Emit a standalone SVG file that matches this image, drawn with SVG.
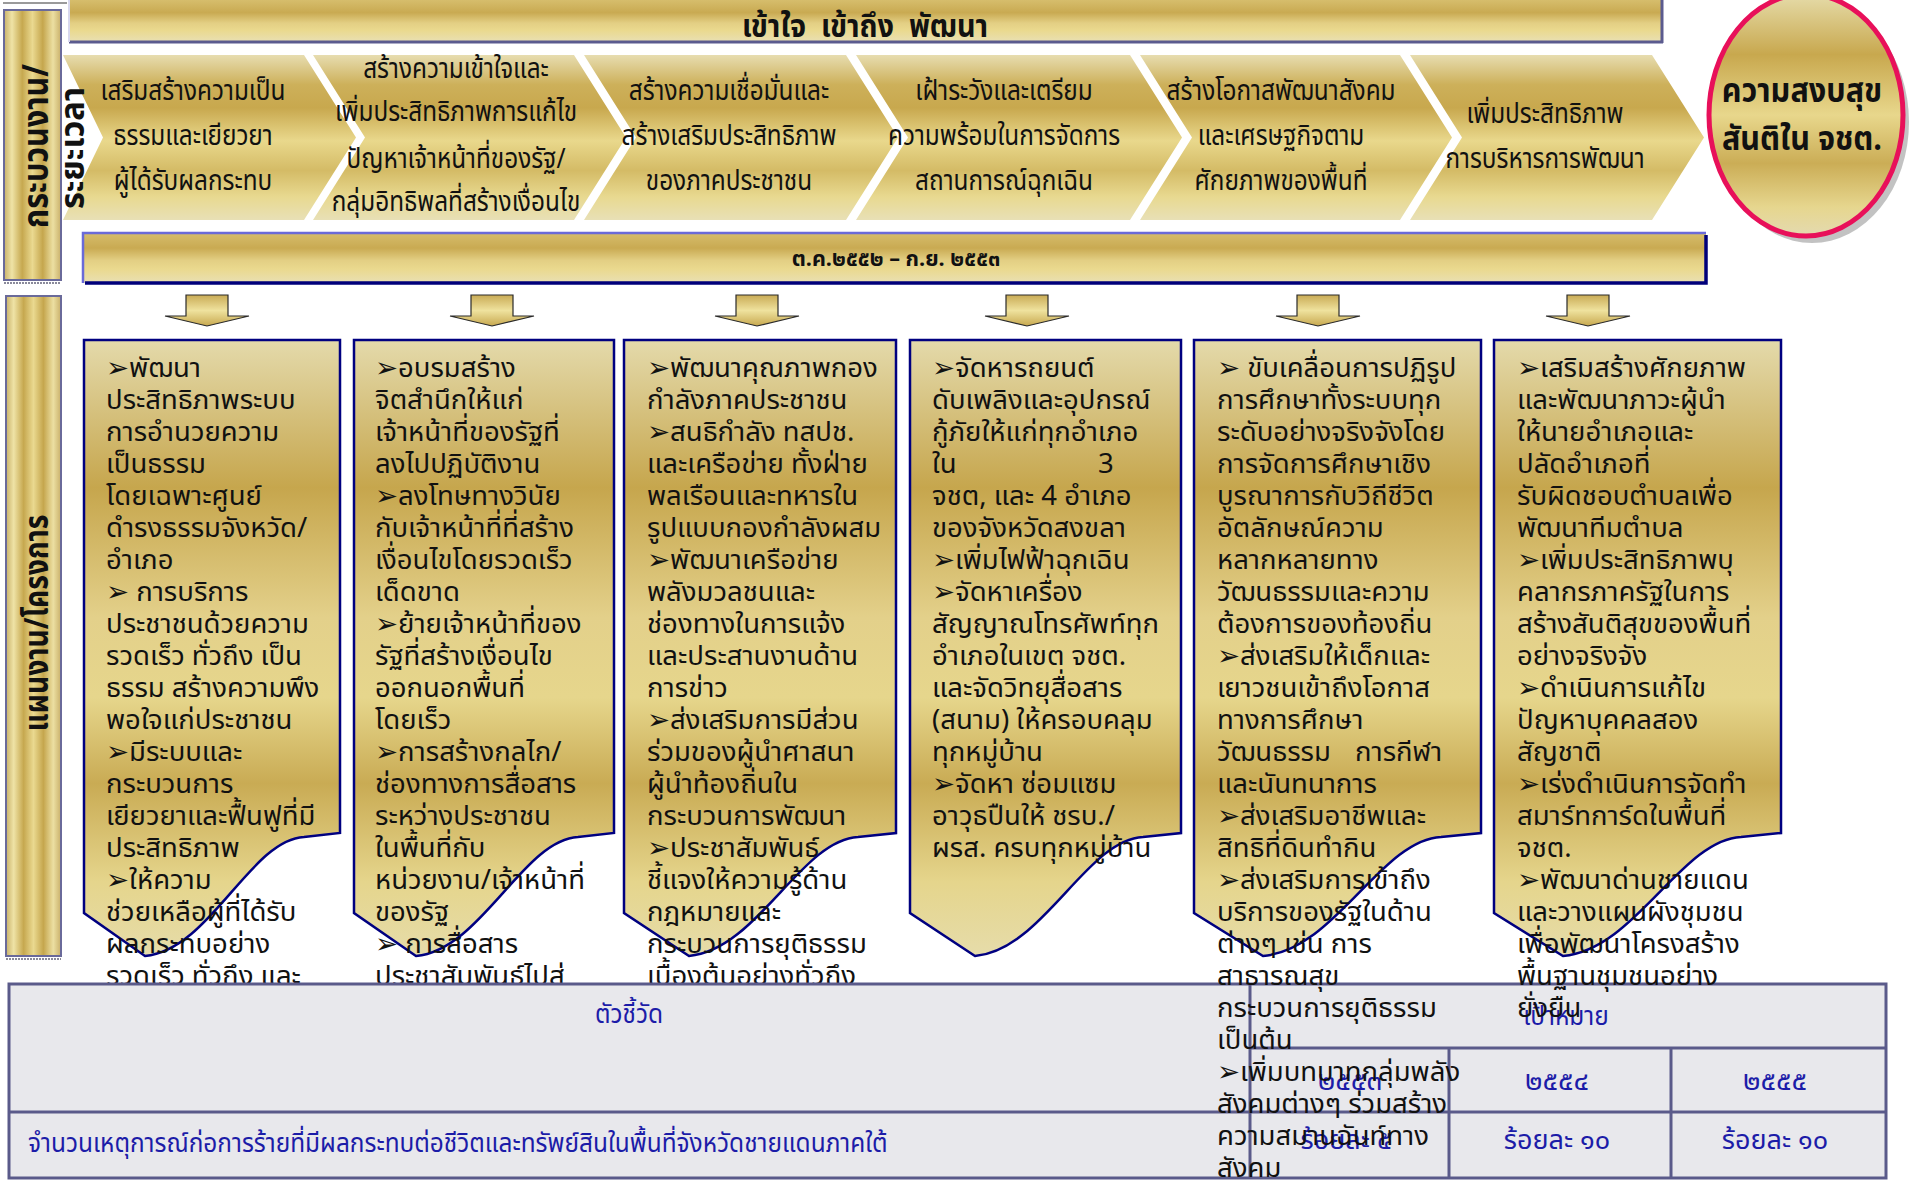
<svg xmlns="http://www.w3.org/2000/svg" width="1910" height="1184" viewBox="0 0 1910 1184">
<defs>
<linearGradient id="gBand" x1="0" y1="0" x2="0" y2="1">
<stop offset="0" stop-color="#e7ddb0"/><stop offset="0.18" stop-color="#cdb05a"/><stop offset="0.32" stop-color="#c8a84e"/><stop offset="0.52" stop-color="#e9d88c"/><stop offset="0.7" stop-color="#d4bb66"/><stop offset="0.86" stop-color="#e8d990"/><stop offset="1" stop-color="#e8e0b6"/>
</linearGradient>
<linearGradient id="gTitle" x1="0" y1="0" x2="0" y2="1">
<stop offset="0" stop-color="#d6bd6c"/><stop offset="0.3" stop-color="#c9aa52"/><stop offset="0.55" stop-color="#e3cf84"/><stop offset="0.72" stop-color="#ead98e"/><stop offset="1" stop-color="#e9e0b4"/>
</linearGradient>
<linearGradient id="gBox" x1="0" y1="0" x2="0" y2="1">
<stop offset="0" stop-color="#e4daab"/><stop offset="0.24" stop-color="#c6a64d"/><stop offset="0.45" stop-color="#e3d08a"/><stop offset="0.58" stop-color="#e6d68c"/><stop offset="0.72" stop-color="#c9ab54"/><stop offset="0.88" stop-color="#e5d58c"/><stop offset="1" stop-color="#e6dcaa"/>
</linearGradient>
<linearGradient id="gBar" x1="0" y1="0" x2="1" y2="0">
<stop offset="0" stop-color="#c9b26a"/><stop offset="0.14" stop-color="#efe3a6"/><stop offset="0.32" stop-color="#c6a84f"/><stop offset="0.5" stop-color="#ead990"/><stop offset="0.68" stop-color="#c5a64d"/><stop offset="0.86" stop-color="#ecdfa2"/><stop offset="1" stop-color="#c9b06a"/>
</linearGradient>
<linearGradient id="gArrow" x1="0" y1="0" x2="0" y2="1">
<stop offset="0" stop-color="#c9ab55"/><stop offset="0.5" stop-color="#efe29e"/><stop offset="1" stop-color="#c7a84f"/>
</linearGradient>
<linearGradient id="gEll" x1="0" y1="0" x2="0" y2="1">
<stop offset="0" stop-color="#e6dcaa"/><stop offset="0.25" stop-color="#c8a84e"/><stop offset="0.5" stop-color="#e8d78c"/><stop offset="0.7" stop-color="#cbad56"/><stop offset="0.88" stop-color="#e6d68e"/><stop offset="1" stop-color="#e4dab0"/>
</linearGradient>
</defs>
<style>
.th{font-family:"Noto Sans Thai","Tahoma","Noto Sans","DejaVu Sans",sans-serif;}
.ch{font-size:28px;fill:#111;text-anchor:middle;}
.bx{font-size:27.5px;fill:#111;}
.bl{fill:#1c1ca8;font-size:26px;}
.box{fill:url(#gBox);stroke:#000080;stroke-width:2.5;}
.chev{fill:url(#gBand);}
.arr{fill:url(#gArrow);stroke:#2a2a2a;stroke-width:1.2;}
.tline{stroke:#5a5a8a;stroke-width:3;fill:none;}
.lbl{font-weight:bold;fill:#111;text-anchor:middle;}
</style>
<rect width="1910" height="1184" fill="#ffffff"/>
<line x1="3" y1="3" x2="67" y2="3" stroke="#9a9a9a" stroke-width="2"/>

<g id="title-bar">
<rect x="69" y="0" width="1593" height="42" fill="url(#gTitle)"/>
<line x1="69" y1="42" x2="1663" y2="42" stroke="#5b5b8f" stroke-width="3"/>
<line x1="1662" y1="0" x2="1662" y2="43" stroke="#5b5b8f" stroke-width="3"/>
<line x1="69" y1="0" x2="69" y2="42" stroke="#d8d8ee" stroke-width="2"/>
<text class="th lbl" xml:space="preserve" transform="translate(865,37) scale(0.9,1)" font-size="32">เข้าใจ  เข้าถึง  พัฒนา</text>
</g>

<g id="chevrons">
<g id="chev1"><polygon class="chev" points="63,55 304,55 356,137.5 304,220 63,220 103,137.5"/>
<text class="th ch" transform="translate(193,100) scale(0.87,1)"><tspan x="0" y="0">เสริมสร้างความเป็น</tspan><tspan x="0" y="45">ธรรมและเยียวยา</tspan><tspan x="0" y="90">ผู้ได้รับผลกระทบ</tspan></text></g>
<g id="chev2"><polygon class="chev" points="313,55 574,55 626,137.5 574,220 313,220 365,137.5"/>
<text class="th ch" transform="translate(456,78) scale(0.87,1)"><tspan x="0" y="0">สร้างความเข้าใจและ</tspan><tspan x="0" y="43">เพิ่มประสิทธิภาพการแก้ไข</tspan><tspan x="0" y="90">ปัญหาเจ้าหน้าที่ของรัฐ/</tspan><tspan x="0" y="133">กลุ่มอิทธิพลที่สร้างเงื่อนไข</tspan></text></g>
<g id="chev3"><polygon class="chev" points="584,55 846,55 898,137.5 846,220 584,220 636,137.5"/>
<text class="th ch" transform="translate(729,100) scale(0.87,1)"><tspan x="0" y="0">สร้างความเชื่อมั่นและ</tspan><tspan x="0" y="45">สร้างเสริมประสิทธิภาพ</tspan><tspan x="0" y="90">ของภาคประชาชน</tspan></text></g>
<g id="chev4"><polygon class="chev" points="856,55 1130,55 1182,137.5 1130,220 856,220 908,137.5"/>
<text class="th ch" transform="translate(1004,100) scale(0.87,1)"><tspan x="0" y="0">เฝ้าระวังและเตรียม</tspan><tspan x="0" y="45">ความพร้อมในการจัดการ</tspan><tspan x="0" y="90">สถานการณ์ฉุกเฉิน</tspan></text></g>
<g id="chev5"><polygon class="chev" points="1140,55 1400,55 1452,137.5 1400,220 1140,220 1192,137.5"/>
<text class="th ch" transform="translate(1281,100) scale(0.87,1)"><tspan x="0" y="0">สร้างโอกาสพัฒนาสังคม</tspan><tspan x="0" y="45">และเศรษฐกิจตาม</tspan><tspan x="0" y="90">ศักยภาพของพื้นที่</tspan></text></g>
<g id="chev6"><polygon class="chev" points="1410,55 1652,55 1704,137.5 1652,220 1410,220 1462,137.5"/>
<text class="th ch" transform="translate(1545,123) scale(0.87,1)"><tspan x="0" y="0">เพิ่มประสิทธิภาพ</tspan><tspan x="0" y="45">การบริหารการพัฒนา</tspan></text></g>
</g>

<g id="goal">
<ellipse cx="1812" cy="122" rx="97" ry="121" fill="#8f8f8f" opacity="0.55"/>
<ellipse cx="1806" cy="115" rx="97" ry="121" fill="url(#gEll)" stroke="#e8105a" stroke-width="5"/>
<text class="th lbl" transform="translate(1802,102) scale(0.9,1)" font-size="34"><tspan x="0" y="0">ความสงบสุข</tspan><tspan x="0" y="48">สันติใน จชต.</tspan></text>
</g>

<g id="label-process">
<rect x="4" y="10" width="57" height="270" fill="url(#gBar)" stroke="#6a6a9a" stroke-width="2"/>
<line x1="4" y1="283" x2="61" y2="283" stroke="#8a8a9a" stroke-width="2" stroke-dasharray="2,1"/>
<text class="th lbl" transform="translate(48,146) rotate(-90) scale(0.85,1)" font-size="36">กระบวนงาน/</text>
<text class="th lbl" transform="translate(84,148) rotate(-90) scale(0.96,1)" font-size="34">ระยะเวลา</text>
</g>

<g id="date-bar">
<rect x="83" y="233" width="1623" height="50" fill="url(#gTitle)"/>
<polyline points="83,283 83,233 1706,233" fill="none" stroke="#6a6ad8" stroke-width="2.5"/>
<polyline points="85,283 1706,283 1706,235" fill="none" stroke="#00007a" stroke-width="3.5"/>
<text class="th lbl" transform="translate(896,266) scale(0.98,1)" font-size="22">ต.ค.๒๕๕๒ – ก.ย. ๒๕๕๓</text>
</g>

<g id="connectors">
<path class="arr" d="M186,295 H228 V316 H249 L207,326 L165,316 H186 Z"/>
<path class="arr" d="M471,295 H513 V316 H534 L492,326 L450,316 H471 Z"/>
<path class="arr" d="M736,295 H778 V316 H799 L757,326 L715,316 H736 Z"/>
<path class="arr" d="M1006,295 H1048 V316 H1069 L1027,326 L985,316 H1006 Z"/>
<path class="arr" d="M1297,295 H1339 V316 H1360 L1318,326 L1276,316 H1297 Z"/>
<path class="arr" d="M1567,295 H1609 V316 H1630 L1588,326 L1546,316 H1567 Z"/>
</g>

<g id="label-plan">
<rect x="6" y="296" width="55" height="660" fill="url(#gBar)" stroke="#6a6a9a" stroke-width="2"/>
<line x1="6" y1="959" x2="61" y2="959" stroke="#8a8a9a" stroke-width="2" stroke-dasharray="2,1"/>
<text class="th lbl" transform="translate(48,623) rotate(-90) scale(0.83,1)" font-size="34">แผนงาน/โครงการ</text>
</g>

<g id="box1">
<path class="box" d="M84,340 H340 V833 L304,837 C250,840 210,950 145,956 L84,913 Z"/>
<text class="th bx"><tspan x="106" y="377">➢พัฒนา</tspan><tspan x="106" dy="32">ประสิทธิภาพระบบ</tspan><tspan x="106" dy="32">การอำนวยความ</tspan><tspan x="106" dy="32">เป็นธรรม</tspan><tspan x="106" dy="32">โดยเฉพาะศูนย์</tspan><tspan x="106" dy="32">ดำรงธรรมจังหวัด/</tspan><tspan x="106" dy="32">อำเภอ</tspan><tspan x="106" dy="32">➢ การบริการ</tspan><tspan x="106" dy="32">ประชาชนด้วยความ</tspan><tspan x="106" dy="32">รวดเร็ว ทั่วถึง เป็น</tspan><tspan x="106" dy="32">ธรรม สร้างความพึง</tspan><tspan x="106" dy="32">พอใจแก่ประชาชน</tspan><tspan x="106" dy="32">➢มีระบบและ</tspan><tspan x="106" dy="32">กระบวนการ</tspan><tspan x="106" dy="32">เยียวยาและฟื้นฟูที่มี</tspan><tspan x="106" dy="32">ประสิทธิภาพ</tspan><tspan x="106" dy="32">➢ให้ความ</tspan><tspan x="106" dy="32">ช่วยเหลือผู้ที่ได้รับ</tspan><tspan x="106" dy="32">ผลกระทบอย่าง</tspan><tspan x="106" dy="32">รวดเร็ว ทั่วถึง และ</tspan></text>
</g>

<g id="box2">
<path class="box" d="M354,340 H614 V833 L578,837 C523,840 481,950 416,956 L354,913 Z"/>
<text class="th bx"><tspan x="375" y="377">➢อบรมสร้าง</tspan><tspan x="375" dy="32">จิตสำนึกให้แก่</tspan><tspan x="375" dy="32">เจ้าหน้าที่ของรัฐที่</tspan><tspan x="375" dy="32">ลงไปปฏิบัติงาน</tspan><tspan x="375" dy="32">➢ลงโทษทางวินัย</tspan><tspan x="375" dy="32">กับเจ้าหน้าที่ที่สร้าง</tspan><tspan x="375" dy="32">เงื่อนไขโดยรวดเร็ว</tspan><tspan x="375" dy="32">เด็ดขาด</tspan><tspan x="375" dy="32">➢ย้ายเจ้าหน้าที่ของ</tspan><tspan x="375" dy="32">รัฐที่สร้างเงื่อนไข</tspan><tspan x="375" dy="32">ออกนอกพื้นที่</tspan><tspan x="375" dy="32">โดยเร็ว</tspan><tspan x="375" dy="32">➢การสร้างกลไก/</tspan><tspan x="375" dy="32">ช่องทางการสื่อสาร</tspan><tspan x="375" dy="32">ระหว่างประชาชน</tspan><tspan x="375" dy="32">ในพื้นที่กับ</tspan><tspan x="375" dy="32">หน่วยงาน/เจ้าหน้าที่</tspan><tspan x="375" dy="32">ของรัฐ</tspan><tspan x="375" dy="32">➢ การสื่อสาร</tspan><tspan x="375" dy="32">ประชาสัมพันธ์ไปสู่</tspan></text>
</g>

<g id="box3">
<path class="box" d="M624,340 H896 V833 L858,837 C801,840 757,950 689,956 L624,913 Z"/>
<text class="th bx"><tspan x="647" y="377">➢พัฒนาคุณภาพกอง</tspan><tspan x="647" dy="32">กำลังภาคประชาชน</tspan><tspan x="647" dy="32">➢สนธิกำลัง ทสปช.</tspan><tspan x="647" dy="32">และเครือข่าย ทั้งฝ่าย</tspan><tspan x="647" dy="32">พลเรือนและทหารใน</tspan><tspan x="647" dy="32">รูปแบบกองกำลังผสม</tspan><tspan x="647" dy="32">➢พัฒนาเครือข่าย</tspan><tspan x="647" dy="32">พลังมวลชนและ</tspan><tspan x="647" dy="32">ช่องทางในการแจ้ง</tspan><tspan x="647" dy="32">และประสานงานด้าน</tspan><tspan x="647" dy="32">การข่าว</tspan><tspan x="647" dy="32">➢ส่งเสริมการมีส่วน</tspan><tspan x="647" dy="32">ร่วมของผู้นำศาสนา</tspan><tspan x="647" dy="32">ผู้นำท้องถิ่นใน</tspan><tspan x="647" dy="32">กระบวนการพัฒนา</tspan><tspan x="647" dy="32">➢ประชาสัมพันธ์</tspan><tspan x="647" dy="32">ชี้แจงให้ความรู้ด้าน</tspan><tspan x="647" dy="32">กฎหมายและ</tspan><tspan x="647" dy="32">กระบวนการยุติธรรม</tspan><tspan x="647" dy="32">เบื้องต้นอย่างทั่วถึง</tspan></text>
</g>

<g id="box4">
<path class="box" d="M910,340 H1181 V833 L1143,837 C1086,840 1043,950 975,956 L910,913 Z"/>
<text class="th bx"><tspan x="932" y="377">➢จัดหารถยนต์</tspan><tspan x="932" dy="32">ดับเพลิงและอุปกรณ์</tspan><tspan x="932" dy="32">กู้ภัยให้แก่ทุกอำเภอ</tspan><tspan x="932" dy="32">ใน</tspan><tspan x="1098">3</tspan><tspan x="932" dy="32">จชต, และ 4 อำเภอ</tspan><tspan x="932" dy="32">ของจังหวัดสงขลา</tspan><tspan x="932" dy="32">➢เพิ่มไฟฟ้าฉุกเฉิน</tspan><tspan x="932" dy="32">➢จัดหาเครื่อง</tspan><tspan x="932" dy="32">สัญญาณโทรศัพท์ทุก</tspan><tspan x="932" dy="32">อำเภอในเขต จชต.</tspan><tspan x="932" dy="32">และจัดวิทยุสื่อสาร</tspan><tspan x="932" dy="32">(สนาม) ให้ครอบคลุม</tspan><tspan x="932" dy="32">ทุกหมู่บ้าน</tspan><tspan x="932" dy="32">➢จัดหา ซ่อมแซม</tspan><tspan x="932" dy="32">อาวุธปืนให้ ชรบ./</tspan><tspan x="932" dy="32">ผรส. ครบทุกหมู่บ้าน</tspan></text>
</g>

<g id="indicator-table">
<rect x="9" y="984" width="1877" height="194" fill="#e8e8ec"/>
<rect class="tline" x="9" y="984" width="1877" height="194"/>
<line class="tline" x1="1250" y1="984" x2="1250" y2="1178"/>
<line class="tline" x1="1250" y1="1048" x2="1886" y2="1048"/>
<line class="tline" x1="9" y1="1112" x2="1886" y2="1112"/>
<line class="tline" x1="1449" y1="1048" x2="1449" y2="1178"/>
<line class="tline" x1="1671" y1="1048" x2="1671" y2="1178"/>
<text class="th bl" transform="translate(629,1023) scale(0.94,1)" text-anchor="middle">ตัวชี้วัด</text>
<text class="th bl" transform="translate(1566,1025) scale(0.94,1)" text-anchor="middle">เป้าหมาย</text>
<text class="th bl" transform="translate(1350,1090) scale(1.1,1)" text-anchor="middle">๒๕๕๓</text>
<text class="th bl" transform="translate(1557,1090) scale(1.1,1)" text-anchor="middle">๒๕๕๔</text>
<text class="th bl" transform="translate(1775,1090) scale(1.1,1)" text-anchor="middle">๒๕๕๕</text>
<text class="th bl" transform="translate(28,1152) scale(0.94,1)">จำนวนเหตุการณ์ก่อการร้ายที่มีผลกระทบต่อชีวิตและทรัพย์สินในพื้นที่จังหวัดชายแดนภาคใต้</text>
<text class="th bl" transform="translate(1346,1149) scale(1.04,1)" text-anchor="middle">ร้อยละ ๕</text>
<text class="th bl" transform="translate(1557,1149) scale(1.04,1)" text-anchor="middle">ร้อยละ ๑๐</text>
<text class="th bl" transform="translate(1775,1149) scale(1.04,1)" text-anchor="middle">ร้อยละ ๑๐</text>
</g>

<g id="box5">
<path class="box" d="M1194,340 H1481 V833 L1441,837 C1381,840 1335,950 1263,956 L1194,913 Z"/>
<text class="th bx"><tspan x="1217" y="377">➢ ขับเคลื่อนการปฏิรูป</tspan><tspan x="1217" dy="32">การศึกษาทั้งระบบทุก</tspan><tspan x="1217" dy="32">ระดับอย่างจริงจังโดย</tspan><tspan x="1217" dy="32">การจัดการศึกษาเชิง</tspan><tspan x="1217" dy="32">บูรณาการกับวิถีชีวิต</tspan><tspan x="1217" dy="32">อัตลักษณ์ความ</tspan><tspan x="1217" dy="32">หลากหลายทาง</tspan><tspan x="1217" dy="32">วัฒนธรรมและความ</tspan><tspan x="1217" dy="32">ต้องการของท้องถิ่น</tspan><tspan x="1217" dy="32">➢ส่งเสริมให้เด็กและ</tspan><tspan x="1217" dy="32">เยาวชนเข้าถึงโอกาส</tspan><tspan x="1217" dy="32">ทางการศึกษา</tspan><tspan x="1217" dy="32">วัฒนธรรม</tspan><tspan x="1355">การกีฬา</tspan><tspan x="1217" dy="32">และนันทนาการ</tspan><tspan x="1217" dy="32">➢ส่งเสริมอาชีพและ</tspan><tspan x="1217" dy="32">สิทธิที่ดินทำกิน</tspan><tspan x="1217" dy="32">➢ส่งเสริมการเข้าถึง</tspan><tspan x="1217" dy="32">บริการของรัฐในด้าน</tspan><tspan x="1217" dy="32">ต่างๆ เช่น การ</tspan><tspan x="1217" dy="32">สาธารณสุข</tspan><tspan x="1217" dy="32">กระบวนการยุติธรรม</tspan><tspan x="1217" dy="32">เป็นต้น</tspan><tspan x="1217" dy="32">➢เพิ่มบทบาทกลุ่มพลัง</tspan><tspan x="1217" dy="32">สังคมต่างๆ ร่วมสร้าง</tspan><tspan x="1217" dy="32">ความสมานฉันท์ทาง</tspan><tspan x="1217" dy="32">สังคม</tspan></text>
</g>

<g id="box6">
<path class="box" d="M1494,340 H1781 V833 L1741,837 C1681,840 1635,950 1563,956 L1494,913 Z"/>
<text class="th bx"><tspan x="1517" y="377">➢เสริมสร้างศักยภาพ</tspan><tspan x="1517" dy="32">และพัฒนาภาวะผู้นำ</tspan><tspan x="1517" dy="32">ให้นายอำเภอและ</tspan><tspan x="1517" dy="32">ปลัดอำเภอที่</tspan><tspan x="1517" dy="32">รับผิดชอบตำบลเพื่อ</tspan><tspan x="1517" dy="32">พัฒนาทีมตำบล</tspan><tspan x="1517" dy="32">➢เพิ่มประสิทธิภาพบุ</tspan><tspan x="1517" dy="32">คลากรภาครัฐในการ</tspan><tspan x="1517" dy="32">สร้างสันติสุขของพื้นที่</tspan><tspan x="1517" dy="32">อย่างจริงจัง</tspan><tspan x="1517" dy="32">➢ดำเนินการแก้ไข</tspan><tspan x="1517" dy="32">ปัญหาบุคคลสอง</tspan><tspan x="1517" dy="32">สัญชาติ</tspan><tspan x="1517" dy="32">➢เร่งดำเนินการจัดทำ</tspan><tspan x="1517" dy="32">สมาร์ทการ์ดในพื้นที่</tspan><tspan x="1517" dy="32">จชต.</tspan><tspan x="1517" dy="32">➢พัฒนาด่านชายแดน</tspan><tspan x="1517" dy="32">และวางแผนผังชุมชน</tspan><tspan x="1517" dy="32">เพื่อพัฒนาโครงสร้าง</tspan><tspan x="1517" dy="32">พื้นฐานชุมชนอย่าง</tspan><tspan x="1517" dy="32">ยั่งยืน</tspan></text>
</g>
</svg>
